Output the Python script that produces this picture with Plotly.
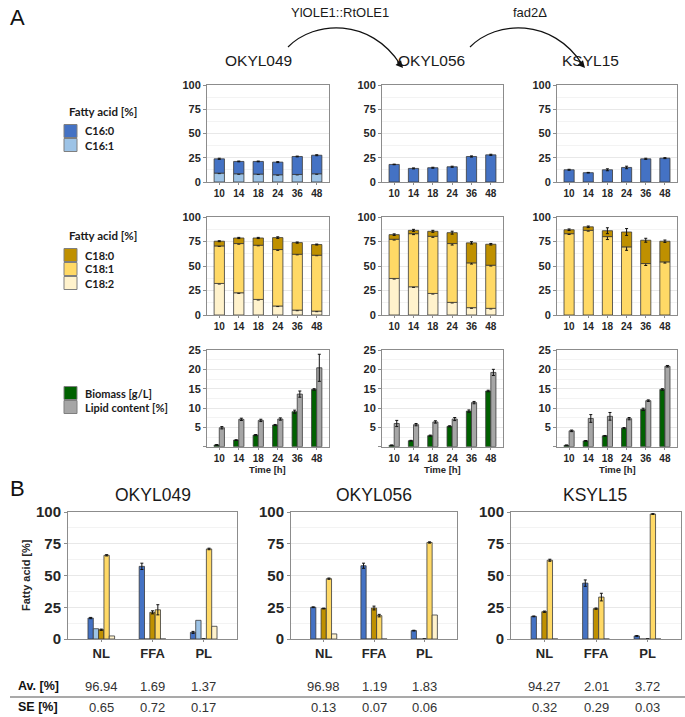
import plotly.graph_objects as go

W, H = 685, 717

times = ["10", "14", "18", "24", "36", "48"]
strains = ["OKYL049", "OKYL056", "KSYL15"]
fractions = ["NL", "FFA", "PL"]

# ---- Panel A, row 1: C16 fatty acids [%] ----
c160_049 = [14.7, 12.7, 13.0, 13.0, 18.5, 19.1]
c161_049 = [9.2, 8.5, 8.2, 7.5, 7.8, 8.5]
c160_056 = [18.1, 14.0, 14.7, 15.7, 26.3, 28.0]
c161_056 = [0.0, 0.0, 0.0, 0.0, 0.0, 0.0]
c160_ks15 = [12.6, 9.6, 12.6, 15.0, 23.9, 24.6]
c161_ks15 = [0.0, 0.0, 0.0, 0.0, 0.0, 0.0]
c16_err_049 = [0.6, 0.4, 0.4, 0.5, 0.4, 0.5]
c16_err_056 = [0.3, 0.5, 0.5, 0.6, 0.6, 0.6]
c16_err_ks15 = [0.5, 0.3, 1.0, 1.3, 0.6, 0.5]

# ---- Panel A, row 2: C18 fatty acids [%] ----
c182_049 = [32.2, 22.7, 15.9, 9.2, 5.0, 4.0]
c181_049 = [38.3, 50.2, 55.3, 57.6, 57.0, 57.0]
c180_049 = [4.8, 5.7, 7.4, 12.2, 11.9, 10.9]
c182_056 = [37.3, 28.8, 22.0, 12.9, 7.5, 6.8]
c181_056 = [40.0, 54.2, 58.3, 60.0, 45.7, 44.0]
c180_056 = [4.7, 3.4, 5.1, 11.1, 20.4, 21.4]
c182_ks15 = [0.0, 0.0, 0.0, 0.0, 0.0, 0.0]
c181_ks15 = [83.0, 86.4, 80.0, 69.5, 52.5, 54.2]
c180_ks15 = [4.0, 3.6, 6.0, 15.2, 23.8, 21.1]
c18_err_049 = [0.5, 0.6, 0.6, 0.8, 0.6, 0.5]
c18_err_056 = [0.8, 1.0, 1.0, 1.5, 1.2, 0.8]
c18_err_ks15 = [0.8, 0.8, 3.0, 3.5, 2.0, 1.2]

# ---- Panel A, row 3: biomass [g/L] and lipid content [%] ----
biomass_049 = [0.45, 1.7, 3.0, 5.6, 9.05, 14.8]
biomass_056 = [0.35, 1.55, 2.85, 5.26, 9.2, 14.4]
biomass_ks15 = [0.35, 1.5, 2.8, 4.8, 9.65, 14.8]
lipid_049 = [4.9, 7.07, 6.8, 7.15, 13.6, 20.4]
lipid_056 = [6.0, 5.7, 6.4, 7.15, 11.4, 19.2]
lipid_ks15 = [4.1, 7.3, 7.85, 7.25, 11.9, 20.8]
biomass_err_049 = [0.1, 0.1, 0.15, 0.15, 0.4, 0.2]
biomass_err_056 = [0.1, 0.1, 0.15, 0.15, 0.3, 0.2]
biomass_err_ks15 = [0.1, 0.1, 0.1, 0.15, 0.3, 0.2]
lipid_err_049 = [0.3, 0.3, 0.3, 0.3, 0.8, 3.5]
lipid_err_056 = [0.8, 0.3, 0.3, 0.4, 0.3, 0.8]
lipid_err_ks15 = [0.2, 1.0, 1.0, 0.3, 0.2, 0.2]

# ---- Panel B: fatty acid [%] per lipid fraction (NL, FFA, PL) ----
b_c160_049 = [16.5, 57.2, 5.2]
b_c161_049 = [8.1, 0.0, 14.7]
b_c180_049 = [7.3, 21.0, 0.0]
b_c181_049 = [65.9, 23.0, 70.9]
b_c182_049 = [2.4, 0.0, 10.0]
b_c160_056 = [25.0, 57.7, 6.6]
b_c161_056 = [0.0, 0.0, 0.0]
b_c180_056 = [24.0, 24.4, 0.0]
b_c181_056 = [47.5, 18.4, 76.0]
b_c182_056 = [4.0, 0.0, 18.9]
b_c160_ks15 = [17.8, 44.0, 2.4]
b_c161_ks15 = [0.0, 0.0, 0.0]
b_c180_ks15 = [21.5, 23.9, 0.0]
b_c181_ks15 = [62.0, 33.0, 98.4]
b_c182_ks15 = [0.0, 0.0, 0.0]
b_err_c160 = [[0.5, 2.5, 0.8], [0.3, 2.0, 0.3], [0.3, 2.5, 0.3]]
b_err_c180 = [[0.5, 1.2, 0.0], [0.3, 1.5, 0.0], [0.5, 0.5, 0.0]]
b_err_c181 = [[0.5, 4.0, 0.6], [0.5, 1.0, 0.5], [0.8, 3.0, 0.3]]

av_049 = ["96.94", "1.69", "1.37"]
se_049 = ["0.65", "0.72", "0.17"]
av_056 = ["96.98", "1.19", "1.83"]
se_056 = ["0.13", "0.07", "0.06"]
av_ks15 = ["94.27", "2.01", "3.72"]
se_ks15 = ["0.32", "0.29", "0.03"]

# ---- styling ----
COL = {"C16:0": "#4472C4", "C16:1": "#9DC3E6", "C18:0": "#BF9000",
       "C18:1": "#FFD966", "C18:2": "#FFF2CC",
       "Biomass": "#006100", "Lipid": "#A6A6A6"}
FRAME = "#8c8c8c"
EDGE = "#3a3a3a"
TXT = "#262626"
SANS = "Liberation Sans"

fig = go.Figure()
axes = {}
n_ax = [0]


def make_axes(xd, yd, cats, xr, yr, tvals, ttext, minor_vals, xfs, yfs):
    n_ax[0] += 1
    s = "" if n_ax[0] == 1 else str(n_ax[0])
    axes["xaxis" + s] = dict(
        domain=[xd[0] / W, xd[1] / W], anchor="y" + s, type="category",
        categoryorder="array", categoryarray=cats, range=xr, automargin=False,
        showline=True, mirror=True, linecolor=FRAME, linewidth=1,
        ticks="outside", ticklen=2, tickcolor=FRAME, showgrid=False, zeroline=False,
        tickfont=dict(family=SANS, size=xfs, color=TXT, weight="bold"), fixedrange=True)
    axes["yaxis" + s] = dict(
        domain=[1 - yd[1] / H, 1 - yd[0] / H], anchor="x" + s, range=yr, automargin=False,
        tickmode="array", tickvals=tvals, ticktext=ttext,
        showline=True, mirror=True, linecolor=FRAME, linewidth=1,
        ticks="outside", ticklen=3, tickcolor=FRAME,
        showgrid=True, gridcolor="#e8e8e8", gridwidth=1, zeroline=False,
        minor=dict(tickvals=minor_vals, showgrid=True, gridcolor="#f3f3f3", ticks=""),
        tickfont=dict(family=SANS, size=yfs, color=TXT, weight="bold"), fixedrange=True)
    return "x" + s, "y" + s


def bar(xa, ya, cats, vals, err, color, offset, width, base=None):
    fig.add_trace(go.Bar(
        x=cats, y=vals, base=base, offset=offset, width=width, xaxis=xa, yaxis=ya,
        marker=dict(color=color, line=dict(color=EDGE, width=0.8)),
        error_y=dict(type="data", array=err, color="#111111", thickness=1, width=1.5,
                     visible=err is not None),
        showlegend=False, hoverinfo="skip"))


colsA = [(207, 329), (382, 503), (557, 677)]
rowsA = [(85, 182), (217, 315), (350, 446.7)]
xrA = [-0.63, 5.63]
pct_vals = [0, 25, 50, 75, 100]
pct_text = ["0", "25", "50", "75", "100"]
pct_minor = [12.5, 37.5, 62.5, 87.5]
bm_vals = [0, 5, 10, 15, 20, 25]
bm_text = ["", "5", "10", "15", "20", "25"]
bm_minor = [2.5, 7.5, 12.5, 17.5, 22.5]

c16_sets = [(c160_049, c161_049, c16_err_049), (c160_056, c161_056, c16_err_056),
            (c160_ks15, c161_ks15, c16_err_ks15)]
c18_sets = [(c180_049, c181_049, c182_049, c18_err_049),
            (c180_056, c181_056, c182_056, c18_err_056),
            (c180_ks15, c181_ks15, c182_ks15, c18_err_ks15)]
bm_sets = [(biomass_049, lipid_049, biomass_err_049, lipid_err_049),
           (biomass_056, lipid_056, biomass_err_056, lipid_err_056),
           (biomass_ks15, lipid_ks15, biomass_err_ks15, lipid_err_ks15)]

BW = 0.53
for i in range(3):
    # row 1
    xa, ya = make_axes(colsA[i], rowsA[0], times, xrA, [0, 100], pct_vals, pct_text, pct_minor, 10, 11)
    c160, c161, e = c16_sets[i]
    bar(xa, ya, times, c161, [v * 0.06 if v else 0 for v in c161], COL["C16:1"], -BW / 2, BW, [0] * 6)
    bar(xa, ya, times, c160, e, COL["C16:0"], -BW / 2, BW, c161)
    # row 2
    xa, ya = make_axes(colsA[i], rowsA[1], times, xrA, [0, 100], pct_vals, pct_text, pct_minor, 10, 11)
    c180, c181, c182, e = c18_sets[i]
    base1 = c182
    base0 = [a + b for a, b in zip(c182, c181)]
    bar(xa, ya, times, c182, [0.6 if v else 0 for v in c182], COL["C18:2"], -BW / 2, BW, [0] * 6)
    bar(xa, ya, times, c181, e, COL["C18:1"], -BW / 2, BW, base1)
    bar(xa, ya, times, c180, e, COL["C18:0"], -BW / 2, BW, base0)
    # row 3
    xa, ya = make_axes(colsA[i], rowsA[2], times, xrA, [0, 25], bm_vals, bm_text, bm_minor, 10, 11)
    bmv, lpv, be, le = bm_sets[i]
    bar(xa, ya, times, bmv, be, COL["Biomass"], -BW / 2, BW / 2)
    bar(xa, ya, times, lpv, le, COL["Lipid"], 0, BW / 2)

# Panel B
colsB = [(68, 237), (291, 457), (511, 681)]
rowB = (512, 639)
b_sets = [(b_c160_049, b_c161_049, b_c180_049, b_c181_049, b_c182_049),
          (b_c160_056, b_c161_056, b_c180_056, b_c181_056, b_c182_056),
          (b_c160_ks15, b_c161_ks15, b_c180_ks15, b_c181_ks15, b_c182_ks15)]
names = ["C16:0", "C16:1", "C18:0", "C18:1", "C18:2"]
bxa = []
bw = 0.104
for i in range(3):
    xa, ya = make_axes(colsB[i], rowB, fractions, [-0.65, 2.65], [0, 100], pct_vals, pct_text, pct_minor, 13, 15)
    bxa.append(xa)
    errs = [b_err_c160[i], None, b_err_c180[i], b_err_c181[i], None]
    for k in range(5):
        bar(xa, ya, fractions, b_sets[i][k], errs[k], COL[names[k]], -2.5 * bw + k * bw, bw)

shapes = []
annos = []


def txt(x, y, s, size, bold=False, xanchor="center", family=SANS, color=TXT, **kw):
    d = dict(x=x / W, y=1 - y / H, xref="paper", yref="paper", text=s, showarrow=False,
             xanchor=xanchor, yanchor="middle",
             font=dict(family=family, size=size, color=color, weight="bold" if bold else "normal"))
    d.update(kw)
    annos.append(d)


# panel labels and titles
txt(8, 18, "A", 22, xanchor="left", color="#111")
txt(8, 488, "B", 22, xanchor="left", color="#111")
for cx, s in zip([258, 431, 590], strains):
    txt(cx, 60, s, 15.5, color="#1a1a1a")
for cx, s in zip([153, 374, 595], strains):
    txt(cx, 495, s, 17.5, color="#1a1a1a")
txt(340, 12, "YlOLE1::RtOLE1", 13, color="#1a1a1a")
txt(530, 12, "fad2Δ", 13, color="#1a1a1a")

# curved arrows
for (x0, y0, c1x, c1y, c2x, c2y, x1, y1) in [(288, 47, 315, 20, 370, 18, 403, 68),
                                              (470, 47, 497, 20, 552, 18, 585, 68)]:
    p = lambda x, y: f"{x / W:.5f},{1 - y / H:.5f}"
    shapes.append(dict(type="path", xref="paper", yref="paper",
                       path=f"M {p(x0, y0)} C {p(c1x, c1y)} {p(c2x, c2y)} {p(x1 - 3, y1 - 4)}",
                       line=dict(color="#111", width=1.2)))
    annos.append(dict(x=x1 / W, y=1 - y1 / H, xref="paper", yref="paper", text="",
                      showarrow=True, arrowhead=2, arrowsize=1.2, arrowwidth=1.2,
                      arrowcolor="#111", ax=-7, ay=-8))

# legends panel A
def legend_item(y, color, label):
    shapes.append(dict(type="rect", xref="paper", yref="paper",
                       x0=64 / W, x1=77 / W, y0=1 - (y + 6.5) / H, y1=1 - (y - 6.5) / H,
                       fillcolor=color, line=dict(color="#7f7f7f", width=1)))
    txt(83, y, label, 11, bold=True, xanchor="left", family="Lato", color="#1a1a1a")


txt(67, 112, "Fatty acid [%]", 11.5, bold=True, xanchor="left", family="Lato", color="#1a1a1a")
legend_item(131, COL["C16:0"], "C16:0")
legend_item(145, COL["C16:1"], "C16:1")
txt(67, 235, "Fatty acid [%]", 11.5, bold=True, xanchor="left", family="Lato", color="#1a1a1a")
legend_item(255, COL["C18:0"], "C18:0")
legend_item(269, COL["C18:1"], "C18:1")
legend_item(283, COL["C18:2"], "C18:2")
legend_item(393, COL["Biomass"], "Biomass [g/L]")
legend_item(407, COL["Lipid"], "Lipid content [%]")

for cx in [267, 442, 617]:
    txt(cx, 469, "Time [h]", 9.5, bold=True)

# panel B y title
txt(26, 575, "Fatty acid [%]", 11, bold=True, textangle=-90)

# table
txt(16, 686, "Av. [%]", 12.5, bold=True, xanchor="left", color="#111")
txt(16, 707, "SE [%]", 12.5, bold=True, xanchor="left", color="#111")
shapes.append(dict(type="line", xref="paper", yref="paper", x0=10 / W, x1=685 / W,
                   y0=1 - 697 / H, y1=1 - 697 / H, line=dict(color="#555", width=1.2)))
for xa, av, se in zip(bxa, [av_049, av_056, av_ks15], [se_049, se_056, se_ks15]):
    for k, f in enumerate(fractions):
        for yy, val in [(686, av[k]), (707, se[k])]:
            annos.append(dict(x=f, y=1 - yy / H, xref=xa, yref="paper", text=val,
                              showarrow=False, xanchor="center", yanchor="middle",
                              font=dict(family=SANS, size=13, color="#333")))

fig.update_layout(
    width=W, height=H, margin=dict(l=0, r=0, t=0, b=0, pad=0, autoexpand=False),
    paper_bgcolor="white", plot_bgcolor="white",
    barmode="overlay", showlegend=False,
    shapes=shapes, annotations=annos, **axes)

fig.write_html(
    "out.html",
    config={"displayModeBar": False, "staticPlot": True},
    post_script=(
        "document.body.style.margin='0';document.body.style.padding='0';"
        "document.body.style.overflow='hidden';"
    ),
)
